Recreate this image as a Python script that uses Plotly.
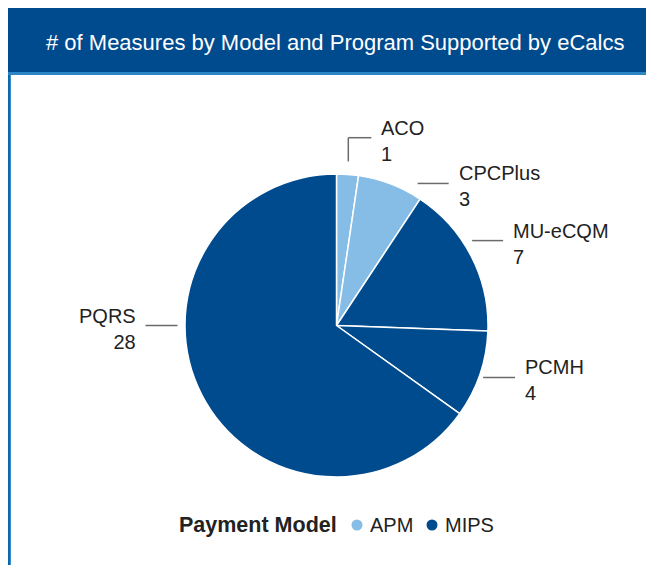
import math
import plotly.graph_objects as go

# ---------------- data ----------------
programs = ["ACO", "CPCPlus", "MU-eCQM", "PCMH", "PQRS"]
measures = [1, 3, 7, 4, 28]
payment_model = ["APM", "APM", "MIPS", "MIPS", "MIPS"]
legend_models = ["APM", "MIPS"]
title_text = "# of Measures by Model and Program Supported by eCalcs"
legend_title = "Payment Model"

# ---------------- style ----------------
W, H = 646, 557          # figure size (page has 8px body margin)
OFF = 8                  # body margin offset
DARK = "#004B8D"
LIGHT = "#85BDE6"
model_colors = {"APM": LIGHT, "MIPS": DARK}
TEXT = "#222222"
LINE = "#6b6b6b"
FONT = "Liberation Sans, Arial, sans-serif"

# pie geometry (page pixels)
CX, CY, R = 336.5, 325.5, 151.5
# label placement: angle (deg, clockwise from top) and radius of leader end
label_angle = [10.5, 38.3, 63.0, 106.2, 270.0]
label_radius = [191, 181, 187, 186, 191]
leader_len = [23, 31, 31, 32, 32]


def px(x):
    return (x - OFF) / W


def py(y):
    return 1 - (y - OFF) / H


fig = go.Figure()

fig.add_trace(go.Pie(
    labels=programs,
    values=measures,
    marker=dict(colors=[model_colors[m] for m in payment_model],
                line=dict(color="white", width=1.5)),
    sort=False,
    direction="clockwise",
    rotation=0,
    textinfo="none",
    hoverinfo="label+value",
    showlegend=False,
    domain=dict(x=[px(CX - R), px(CX + R)], y=[py(CY + R), py(CY - R)]),
))

shapes = []
annotations = []

# header
shapes.append(dict(type="rect", xref="paper", yref="paper", x0=0, x1=1,
                   y0=py(72), y1=1, fillcolor="#004A8E", line=dict(width=0), layer="below"))
shapes.append(dict(type="rect", xref="paper", yref="paper", x0=0, x1=1,
                   y0=py(75), y1=py(72), fillcolor="#2C86C6", line=dict(width=0), layer="below"))
# left border
shapes.append(dict(type="rect", xref="paper", yref="paper", x0=0, x1=px(11),
                   y0=0, y1=py(75), fillcolor="#0A68AC", line=dict(width=0), layer="below"))
shapes.append(dict(type="rect", xref="paper", yref="paper", x0=px(10), x1=px(11),
                   y0=0, y1=py(75), fillcolor="#3C8FCB", line=dict(width=0), layer="below"))

annotations.append(dict(text=title_text, xref="paper", yref="paper",
                        x=px(335), y=py(42), xanchor="center", yanchor="middle",
                        showarrow=False, font=dict(family=FONT, size=22, color="white")))

# slice labels with leader lines
total = sum(measures)
cum = 0
for i, (name, v) in enumerate(zip(programs, measures)):
    mid = (cum + v / 2) / total * 360
    cum += v
    a = math.radians(label_angle[i])
    ex = CX + label_radius[i] * math.sin(a)
    ey = CY - label_radius[i] * math.cos(a)
    right = math.sin(a) >= 0
    sx = ex - leader_len[i] if right else ex + leader_len[i]
    # elbow connector when the horizontal leader starts above the slice
    m = math.radians(mid)
    mx = CX + (R + 13) * math.sin(m)
    my = CY - (R + 13) * math.cos(m)
    if abs(mx - sx) < 2 and my - ey > 8:
        shapes.append(dict(type="line", xref="paper", yref="paper",
                           x0=px(sx), x1=px(sx), y0=py(my), y1=py(ey),
                           line=dict(color=LINE, width=1.5)))
    shapes.append(dict(type="line", xref="paper", yref="paper",
                       x0=px(sx), x1=px(ex), y0=py(ey), y1=py(ey),
                       line=dict(color=LINE, width=1.5)))
    annotations.append(dict(text=f"{name}<br>{v}", xref="paper", yref="paper",
                            x=px(ex + 8 if right else ex - 8), y=py(ey + 3),
                            xanchor="left" if right else "right", yanchor="middle",
                            align="left" if right else "right", showarrow=False,
                            font=dict(family=FONT, size=20, color=TEXT)))

# legend
LY = 525
annotations.append(dict(text=f"<b>{legend_title}</b>", xref="paper", yref="paper",
                        x=px(177), y=py(LY), xanchor="left", yanchor="middle",
                        showarrow=False, font=dict(family=FONT, size=21.5, color=TEXT)))
leg_x = [357, 432]
for lx, mname in zip(leg_x, legend_models):
    shapes.append(dict(type="circle", xref="paper", yref="paper",
                       x0=px(lx - 5.5), x1=px(lx + 5.5), y0=py(LY + 5.5), y1=py(LY - 5.5),
                       fillcolor=model_colors[mname], line=dict(width=0)))
    annotations.append(dict(text=mname, xref="paper", yref="paper",
                            x=px(lx + 11), y=py(LY), xanchor="left", yanchor="middle",
                            showarrow=False, font=dict(family=FONT, size=20, color=TEXT)))

fig.update_layout(
    width=W, height=H, autosize=False,
    margin=dict(l=0, r=0, t=0, b=0),
    paper_bgcolor="white", plot_bgcolor="white",
    shapes=shapes, annotations=annotations,
    showlegend=False,
)

fig.write_html("out.html")
